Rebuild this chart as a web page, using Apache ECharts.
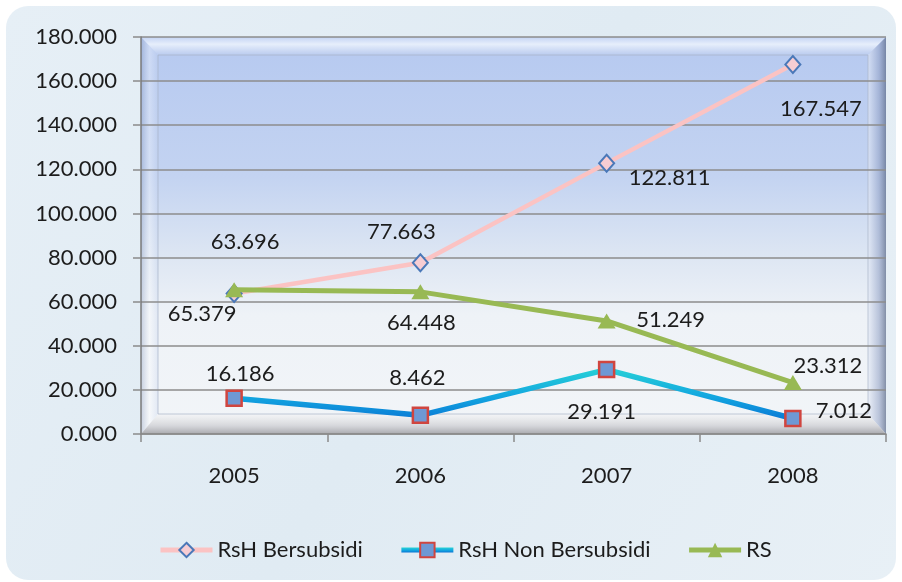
<!DOCTYPE html>
<html>
<head>
<meta charset="utf-8">
<script src="https://cdn.jsdelivr.net/npm/echarts@6/dist/echarts.min.js"></script>
<style>
html,body{margin:0;padding:0;background:#ffffff;}
#chart{width:902px;height:582px;}
</style>
</head>
<body>
<div id="chart"></div>
<script>
const categories = ['2005', '2006', '2007', '2008'];
const rshBersubsidi = [63.696, 77.663, 122.811, 167.547];
const rshNonBersubsidi = [16.186, 8.462, 29.191, 7.012];
const rs = [65.379, 64.448, 51.249, 23.312];
const yMin = 0, yMax = 180, yStep = 20;
const seriesNames = ['RsH Bersubsidi', 'RsH Non Bersubsidi', 'RS'];

// label offsets (style only)
const offB = [[11, -52], [-19, -31], [63, 15], [28, 44]];
const offN = [[6, -24], [-3, -37], [-5, 42], [51, -8]];
const offR = [[-32, 24], [1, 31], [64, -1], [35, -17]];

const FONT = 'Lato, "Open Sans", sans-serif';
const TXT = '#1c1c1c';

function withLabels(vals, offs) {
  return vals.map((v, i) => ({
    value: v,
    label: { offset: offs[i] }
  }));
}
const labelBase = {
  show: true,
  position: 'inside',
  align: 'center',
  verticalAlign: 'middle',
  fontFamily: FONT,
  fontSize: 22,
  color: TXT,
  formatter: p => p.value.toFixed(3)
};

const chart = echarts.init(document.getElementById('chart'), null, { renderer: 'canvas' });

const L = 141, R = 886, T = 37, B = 434;

chart.setOption({
  animation: false,
  backgroundColor: '#ffffff',
  graphic: [
    { type: 'rect', z: -20, shape: { x: 6, y: 6, width: 890, height: 574, r: 22 },
      style: { fill: { type: 'linear', x: 0, y: 0, x2: 1, y2: 1, colorStops: [
        { offset: 0, color: '#e6eff6' }, { offset: 0.5, color: '#e0ebf3' }, { offset: 1, color: '#e8f0f6' }] } } },
    // plot background
    { type: 'rect', z: -19, shape: { x: L, y: T, width: R - L, height: B - T },
      style: { fill: { type: 'linear', x: 0, y: 0, x2: 0, y2: 1, colorStops: [
        { offset: 0, color: '#b6c9f0' }, { offset: 0.35, color: '#c3d3f1' },
        { offset: 0.55, color: '#dde6f3' }, { offset: 0.7, color: '#eef2f7' },
        { offset: 1, color: '#f2f5f8' }] } } },
    // bevel top
    { type: 'polygon', z: -18, shape: { points: [[L, T], [R, T], [R - 18, T + 18], [L + 17, T + 18]] },
      style: { fill: { type: 'linear', x: 0, y: 0, x2: 0, y2: 1, colorStops: [
        { offset: 0, color: '#c4d4f4' }, { offset: 0.4, color: '#e6eefb' }, { offset: 1, color: '#bacbef' }] } } },
    // bevel left
    { type: 'polygon', z: -18, shape: { points: [[L, T], [L + 17, T + 18], [L + 17, B - 20], [L, B]] },
      style: { fill: { type: 'linear', x: 0, y: 0, x2: 1, y2: 0, colorStops: [
        { offset: 0, color: 'rgba(120,140,180,0.35)' }, { offset: 0.5, color: 'rgba(255,255,255,0.3)' }, { offset: 1, color: 'rgba(190,205,235,0.3)' }] } } },
    // bevel right
    { type: 'polygon', z: -18, shape: { points: [[R, T], [R, B], [R - 18, B - 20], [R - 18, T + 18]] },
      style: { fill: { type: 'linear', x: 0, y: 0, x2: 1, y2: 0, colorStops: [
        { offset: 0, color: 'rgba(230,236,248,0.6)' }, { offset: 0.6, color: 'rgba(150,165,200,0.6)' }, { offset: 1, color: 'rgba(95,110,140,0.75)' }] } } },
    // bevel bottom
    { type: 'polygon', z: -18, shape: { points: [[L, B], [L + 17, B - 20], [R - 18, B - 20], [R, B]] },
      style: { fill: { type: 'linear', x: 0, y: 0, x2: 0, y2: 1, colorStops: [
        { offset: 0, color: 'rgba(245,245,245,0.5)' }, { offset: 0.6, color: 'rgba(200,200,205,0.7)' }, { offset: 1, color: 'rgba(150,150,155,0.8)' }] } } },
    // inner rectangle line
    { type: 'rect', z: -17, shape: { x: L + 17, y: T + 18, width: R - L - 35, height: B - T - 38 },
      style: { fill: 'none', stroke: 'rgba(170,180,200,0.7)', lineWidth: 1 } }
  ],
  grid: { left: L, right: 902 - R, top: T, bottom: 582 - B, containLabel: false },
  legend: {
    left: 153, top: 534,
    itemGap: 36, itemWidth: 52, itemHeight: 18,
    textStyle: { fontFamily: FONT, fontSize: 22, color: TXT },
    data: [
      { name: seriesNames[0], lineStyle: { width: 5 } },
      { name: seriesNames[1], lineStyle: { width: 5 } },
      { name: seriesNames[2], lineStyle: { width: 5 } }
    ]
  },
  xAxis: {
    type: 'category',
    data: categories,
    boundaryGap: true,
    axisLine: { show: true, lineStyle: { color: '#8a8a8a', width: 1.5 } },
    axisTick: { show: true, length: 8, alignWithLabel: false, lineStyle: { color: '#8a8a8a', width: 1.5 } },
    axisLabel: { margin: 31, fontFamily: FONT, fontSize: 22, color: TXT },
    splitLine: { show: false }
  },
  yAxis: {
    type: 'value',
    min: yMin, max: yMax, interval: yStep,
    axisLine: { show: true, lineStyle: { color: '#7a7a7a', width: 1.5 } },
    axisTick: { show: true, length: 8, lineStyle: { color: '#8a8a8a', width: 1.5 } },
    axisLabel: { margin: 24, fontFamily: FONT, fontSize: 22, color: TXT, formatter: v => v.toFixed(3) },
    splitLine: { show: true, lineStyle: { color: '#8c8c8c', width: 1.5 } }
  },
  series: [
    {
      name: seriesNames[0], type: 'line', z: 3,
      data: withLabels(rshBersubsidi, offB),
      symbol: 'diamond', symbolSize: [15, 17],
      lineStyle: { color: '#fbc3c3', width: 4.5 },
      itemStyle: { color: '#f7cdd3', borderColor: '#4a78b8', borderWidth: 2 },
      label: labelBase
    },
    {
      name: seriesNames[1], type: 'line', z: 3,
      data: withLabels(rshNonBersubsidi, offN),
      symbol: 'rect', symbolSize: 15,
      lineStyle: { width: 5.5, color: { type: 'linear', x: 0, y: 0, x2: 0, y2: 1, colorStops: [
        { offset: 0, color: '#28d3d6' }, { offset: 0.55, color: '#12a6e0' }, { offset: 1, color: '#0a76d4' }] } },
      itemStyle: { color: '#6e98d4', borderColor: '#d0453f', borderWidth: 2.5 },
      label: labelBase
    },
    {
      name: seriesNames[2], type: 'line', z: 4,
      data: withLabels(rs, offR),
      symbol: 'triangle', symbolSize: [18, 15],
      lineStyle: { color: '#98b954', width: 5 },
      itemStyle: { color: '#98b954', borderWidth: 0 },
      label: labelBase
    }
  ]
});
</script>
</body>
</html>
